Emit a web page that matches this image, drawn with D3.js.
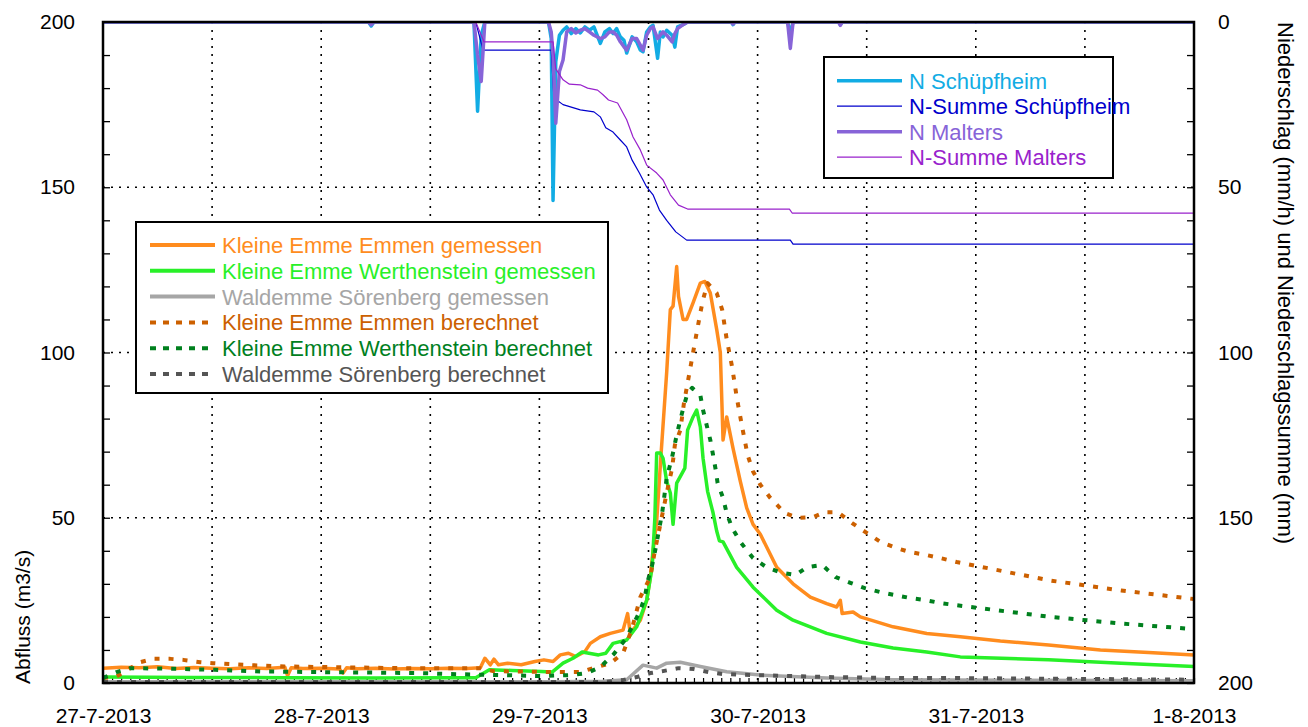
<!DOCTYPE html>
<html><head><meta charset="utf-8">
<script src="https://cdn.jsdelivr.net/npm/d3@7"></script>
<style>
body{margin:0;background:#fff}
svg{display:block}
text{font-family:"Liberation Sans",Arial,Helvetica,sans-serif}
</style>
</head><body>
<svg id="chart" width="1308" height="727"></svg>
<script>
// ---- Data (time in hours since 27-7-2013 00:00) ----
const dateLabels = ["27-7-2013","28-7-2013","29-7-2013","30-7-2013","31-7-2013","1-8-2013"];
const dateHours  = [0,24,48,72,96,120];
const leftTicks  = [0,50,100,150,200];
const rightTicks = [0,50,100,150,200];

const emmenMeas = [[0,4.5],[2,4.8],[4,4.6],[6,4.9],[8,4.4],[10,4.7],[12,4.5],[14,4.3],[16,4.6],[18,4.4],[20,4.8],[20.3,2.2],[20.7,4.6],[22,4.4],[24,4.5],[26,4.2],[26.4,3.0],[26.8,4.6],[28,4.3],[30,4.5],[32,4.2],[34,4.4],[36,4.3],[38,4.5],[40,4.4],[41.5,4.6],[42.0,7.5],[42.6,5.5],[43.0,7.2],[43.5,5.5],[44.5,6],[46,5.5],[47.5,6.5],[48.5,7],[49.5,6.5],[50.3,8.5],[51.2,9],[52,8],[53,9.5],[53.6,12],[54.7,14],[55.8,15],[57.2,16],[57.7,21],[58.0,15],[59.1,19],[59.8,25],[60.2,32],[60.5,40],[60.9,49],[61.4,70],[62.0,94],[62.4,113],[62.7,114],[63.1,126],[63.3,117],[63.8,110],[64.2,110],[64.9,115],[65.7,121],[66.2,121.5],[66.8,118],[67.5,107],[67.9,100],[68.2,73.5],[68.6,80.5],[69.3,71],[70.1,61],[70.8,53],[71.5,48],[72.3,45],[74.1,35],[75.9,30],[77.8,26],[79.6,24],[80.7,23],[81.1,25],[81.3,21],[82.5,21.5],[83.3,20],[86.9,17],[90.6,15],[94.3,14],[98.7,12.7],[104,11.5],[109.7,10],[115,9.2],[120,8.5]];

const werthMeas = [[0,1.8],[10,1.7],[20,1.6],[30,1.5],[38,1.6],[41,1.6],[42.5,4],[45,3.8],[48.2,3.5],[49.4,3.3],[50.6,6],[51.7,7.5],[52.7,9.4],[54.5,8.5],[55.3,9],[56.1,12],[57.6,13],[58.7,17],[59.8,25],[60.4,35],[60.7,50],[60.9,69.6],[61.3,69.6],[61.6,68],[62.0,61],[62.4,57.5],[62.7,48],[63.1,60.5],[63.7,63.5],[64.0,65],[64.3,76.5],[64.9,80.5],[65.3,82.6],[65.7,77.5],[66.0,68],[66.5,58],[67.1,51.5],[67.5,46],[67.8,43],[68.2,42.7],[69.7,35],[71.5,29],[74.1,22],[75.9,19],[79.6,15],[83.3,12.4],[86.9,10.6],[90.6,9.4],[94.3,7.9],[104,7],[112,6],[120,5]];

const soerMeas = [[0,0.4],[40,0.4],[50,0.4],[55,0.5],[57.6,1],[59.4,5.4],[60.9,4.5],[62.0,6],[63.5,6.3],[65.7,5],[68.6,3.4],[72.3,2.4],[79.6,1.5],[86.9,1],[100,0.8],[120,0.7]];

const emmenCalc = [[0,1.5],[1.5,2],[4.1,6.3],[5.5,7.3],[7.4,7.3],[8.8,7],[10.7,6.3],[12.1,6],[15.4,5.5],[20,5],[25,4.8],[32.7,4.5],[41.5,4.5],[42.9,3.6],[49.2,3.3],[52.5,3.3],[55.8,6],[57.2,9],[58.2,16.6],[59.1,26],[60.2,32],[60.7,40],[61.3,48],[62.0,57.5],[62.6,65],[62.9,72],[63.5,76.5],[63.9,84.7],[64.5,93.8],[65.1,103],[65.7,112],[66.0,116],[66.5,121],[67.5,118],[68.1,113],[68.6,104],[69.2,95.6],[69.7,86.5],[70.3,77.5],[70.9,69],[71.5,64],[72.3,60],[73.4,56],[75.0,51.4],[76.4,50],[78.1,50.2],[79.4,51.7],[80.8,51.7],[82.4,48.4],[84.0,45.4],[85.5,42.7],[87.3,40.8],[88.8,39.6],[90.6,38.7],[92.1,37.8],[93.9,36.6],[104.2,31],[112,28],[120,25.4]];

const werthCalc = [[0,1.5],[1.5,3.3],[3,4.5],[7.9,4.3],[12.3,4],[17.3,3.5],[23.9,3.3],[34.9,3],[38.2,2.7],[43.7,2.4],[48.1,2.1],[51.4,2.4],[53.2,3],[54.7,4.8],[56.1,8.5],[57.4,13],[58.3,17.5],[59.1,22],[59.6,26],[59.9,30.6],[60.4,35.7],[60.7,39.6],[61.0,44],[61.5,51.4],[62.0,62],[62.6,68.4],[63.1,75],[63.5,79.6],[63.9,84],[64.3,87.7],[64.8,89.3],[65.7,87.1],[66.0,82.6],[66.4,78],[66.8,73.5],[67.1,69],[67.4,64.4],[67.6,60.5],[68.2,56],[68.6,51.4],[69.2,46.9],[70.1,42.7],[71.5,37.8],[73.0,35],[74.7,33.3],[76.2,32.7],[77.4,35],[79.1,35.7],[80.6,32],[82.2,30.3],[83.8,28.7],[85.5,27.5],[87.1,26.6],[88.8,25.7],[90.4,25.1],[92.1,24.2],[93.7,23.6],[104.2,20],[112,18],[120,16.3]];

const soerCalc = [[0,0.3],[55,0.3],[57,0.8],[58.7,1.8],[60.2,3],[61.6,3.6],[63.3,4.5],[65.0,4.2],[66.6,3.3],[68.2,2.7],[71.5,2.4],[75.9,2.1],[79.6,1.8],[86.9,1.5],[93.5,1.5],[120,1]];

// precipitation (mm/h), right axis (inverted)
const nSchuepf = [[0,0],[29.2,0],[29.5,1.2],[29.8,0],[40.8,0],[41.2,27],[41.6,4],[42.0,0],[49.0,0],[49.3,5],[49.5,54],[49.8,12],[50.2,4],[50.6,2.5],[51.0,1.5],[51.5,3.5],[52.0,2],[52.5,3.3],[53.0,1.5],[53.5,2.5],[54.0,1.5],[54.7,6.5],[55.2,3],[55.7,2],[56.1,3.5],[56.5,2],[56.9,4.5],[57.3,5.5],[57.6,9.4],[58.2,4.5],[58.7,6],[59.1,8.5],[59.4,9],[59.8,3],[60.2,1.5],[60.5,1],[61.0,11],[61.3,3],[61.6,4.5],[62.0,2.5],[62.6,4],[62.9,7.6],[63.2,1.5],[63.8,0.8],[64.3,0],[69.1,0],[69.3,0.8],[69.5,0],[75.3,0],[75.6,3.5],[75.9,0],[80.9,0],[81.1,0.8],[81.3,0],[120,0]];
const nMalters = [[0,0],[29.2,0],[29.5,0.8],[29.8,0],[40.8,0],[41.2,10],[41.6,18],[42.0,0],[49.0,0],[49.3,3],[49.5,10],[49.8,30.6],[50.2,15],[50.6,11.5],[51.0,3],[51.5,2],[52.0,3.3],[52.5,2.5],[53.0,2],[53.5,3],[54.0,4],[54.7,5],[55.2,4.5],[55.7,3],[56.1,3],[56.5,4],[56.9,6],[57.3,7.5],[57.6,8.5],[58.2,5],[58.7,5],[59.1,7],[59.4,8.5],[59.8,4],[60.2,2],[60.5,1.5],[61.0,5],[61.3,4],[61.6,3],[62.0,4],[62.6,6],[62.9,3.5],[63.2,2],[63.8,0.8],[64.3,0],[69.1,0],[69.3,0.6],[69.5,0],[75.3,0],[75.6,8],[75.9,0],[80.9,0],[81.1,1],[81.3,0],[120,0]];
const sumSchuepf = [[0,0],[41.0,0],[41.8,8.5],[49.3,8.5],[49.6,23],[50.6,25],[52.5,26.6],[54.0,27.2],[54.7,28.7],[55.3,32],[56.1,33.3],[56.9,35.7],[57.6,37.8],[58.2,41.8],[59.0,45.7],[59.8,49.9],[60.5,52.3],[61.2,56.9],[62.0,60],[63.0,63.5],[64.2,66],[75.6,66],[75.9,67.2],[120,67.2]];
const sumMalters = [[0,0],[41.0,0],[41.9,6],[49.5,6],[49.8,14.2],[50.6,17.5],[51.3,18.8],[52.5,19],[53.3,20],[54.4,20.6],[55.0,22],[55.6,23.6],[56.6,24.5],[57.6,29.6],[58.3,34.8],[59.1,38.7],[59.8,43.3],[60.9,45.7],[61.6,47.8],[62.4,52.3],[63.3,55.4],[64.3,56.6],[75.5,56.6],[75.8,57.8],[120,57.8]];

const flowSeries = [
  {name:"Kleine Emme Emmen gemessen", data:emmenMeas, color:"#ff8c1e", dash:null},
  {name:"Kleine Emme Werthenstein gemessen", data:werthMeas, color:"#28f028", dash:null},
  {name:"Waldemme Sörenberg gemessen", data:soerMeas, color:"#a6a6a6", dash:null},
  {name:"Kleine Emme Emmen berechnet", data:emmenCalc, color:"#cc6000", dash:"5,9"},
  {name:"Kleine Emme Werthenstein berechnet", data:werthCalc, color:"#00801e", dash:"5,9"},
  {name:"Waldemme Sörenberg berechnet", data:soerCalc, color:"#555555", dash:"5,9"}
];
const rainSeries = [
  {name:"N Schüpfheim", data:nSchuepf, color:"#12ace4", w:3.5},
  {name:"N-Summe Schüpfheim", data:sumSchuepf, color:"#0000cc", w:1.2},
  {name:"N Malters", data:nMalters, color:"#8764d8", w:3.5},
  {name:"N-Summe Malters", data:sumMalters, color:"#9922cc", w:1.2}
];

// ---- Layout ----
const L=103, R=1194, T=22, B=683;
const svg = d3.select("#chart");
const x = d3.scaleLinear().domain([0,120]).range([L,R]);
const y = d3.scaleLinear().domain([0,200]).range([B,T]);
const yR = d3.scaleLinear().domain([0,200]).range([T,B]);

svg.append("defs").append("clipPath").attr("id","clip")
  .append("rect").attr("x",L).attr("y",T).attr("width",R-L).attr("height",B-T);

// grid
const grid = svg.append("g");
d3.range(12,120,12).forEach(h=>{
  grid.append("line").attr("x1",x(h)).attr("x2",x(h)).attr("y1",T).attr("y2",B)
    .attr("stroke","#000").attr("stroke-width",1.6).attr("stroke-dasharray","2,6");
});
[50,100,150].forEach(v=>{
  grid.append("line").attr("x1",L).attr("x2",R).attr("y1",y(v)).attr("y2",y(v))
    .attr("stroke","#000").attr("stroke-width",1.6).attr("stroke-dasharray","2,6");
});

// minor ticks
svg.append("g").attr("transform",`translate(${L},0)`)
  .call(d3.axisLeft(y).tickValues(d3.range(0,201,10)).tickSize(-7).tickFormat(""))
  .call(g=>g.select(".domain").remove()).selectAll("line").attr("stroke","#000").attr("stroke-width",1.3);
svg.append("g").attr("transform",`translate(${R},0)`)
  .call(d3.axisRight(yR).tickValues(d3.range(0,201,10)).tickSize(-7).tickFormat(""))
  .call(g=>g.select(".domain").remove()).selectAll("line").attr("stroke","#000").attr("stroke-width",1.3);
svg.append("g").attr("transform",`translate(0,${B})`)
  .call(d3.axisBottom(x).tickValues(d3.range(0,121,1)).tickSize(-5).tickFormat(""))
  .call(g=>g.select(".domain").remove()).selectAll("line").attr("stroke","#000").attr("stroke-width",1.2);

// tick labels
const lax = svg.append("g").attr("transform",`translate(${L},0)`)
  .call(d3.axisLeft(y).tickValues(leftTicks).tickSize(0).tickPadding(28));
lax.select(".domain").remove();
lax.selectAll("text").attr("font-size",21).attr("fill","#000").style("font-family",'"Liberation Sans",Arial,sans-serif');
const rax = svg.append("g").attr("transform",`translate(${R},0)`)
  .call(d3.axisRight(yR).tickValues(rightTicks).tickSize(0).tickPadding(24));
rax.select(".domain").remove();
rax.selectAll("text").attr("font-size",21).attr("fill","#000").style("font-family",'"Liberation Sans",Arial,sans-serif');
const bax = svg.append("g").attr("transform",`translate(0,${B})`)
  .call(d3.axisBottom(x).tickValues(dateHours).tickSize(0).tickPadding(25).tickFormat((d,i)=>dateLabels[i]));
bax.select(".domain").remove();
bax.selectAll("text").attr("font-size",21).attr("fill","#000").style("font-family",'"Liberation Sans",Arial,sans-serif');

// series
const plot = svg.append("g").attr("clip-path","url(#clip)");
const line = d3.line().x(d=>x(d[0])).y(d=>y(d[1]));
const lineR = d3.line().x(d=>x(d[0])).y(d=>yR(d[1]));
flowSeries.forEach(s=>{
  plot.append("path").attr("d",line(s.data)).attr("fill","none")
    .attr("stroke",s.color).attr("stroke-width",s.dash?4:3.5)
    .attr("stroke-dasharray",s.dash).attr("stroke-linejoin","round")
    .attr("stroke-linecap",s.dash?"butt":"round");
});
rainSeries.forEach(s=>{
  plot.append("path").attr("d",lineR(s.data)).attr("fill","none")
    .attr("stroke",s.color).attr("stroke-width",s.w).attr("stroke-linejoin","round");
});

// frame
svg.append("rect").attr("x",L).attr("y",T).attr("width",R-L).attr("height",B-T)
  .attr("fill","none").attr("stroke","#000").attr("stroke-width",2.5);

// axis titles
svg.append("text").attr("transform",`translate(30,684) rotate(-90)`)
  .attr("text-anchor","start").attr("font-size",21).text("Abfluss (m3/s)");
svg.append("text").attr("transform",`translate(1278,22) rotate(90)`)
  .attr("text-anchor","start").attr("font-size",22).text("Niederschlag (mm/h) und Niederschlagssumme (mm)");

// legend 1 (flows)
const lg1 = svg.append("g");
lg1.append("rect").attr("x",136).attr("y",222).attr("width",472).attr("height",171)
  .attr("fill","#fff").attr("stroke","#000").attr("stroke-width",2);
flowSeries.forEach((s,i)=>{
  const yy = 245 + i*25.8;
  lg1.append("line").attr("x1",150).attr("x2",215).attr("y1",yy).attr("y2",yy)
    .attr("stroke",s.color).attr("stroke-width",4).attr("stroke-dasharray",s.dash?"6,7":null);
  lg1.append("text").attr("x",222).attr("y",yy).attr("dy","0.36em").attr("font-size",22)
    .attr("fill",s.color).text(s.name);
});

// legend 2 (rain)
const lg2 = svg.append("g");
lg2.append("rect").attr("x",824).attr("y",57).attr("width",289).attr("height",121)
  .attr("fill","#fff").attr("stroke","#000").attr("stroke-width",2);
rainSeries.forEach((s,i)=>{
  const yy = 80.7 + i*25.5;
  lg2.append("line").attr("x1",837).attr("x2",902).attr("y1",yy).attr("y2",yy)
    .attr("stroke",s.color).attr("stroke-width",s.w);
  lg2.append("text").attr("x",909).attr("y",yy).attr("dy","0.36em").attr("font-size",22)
    .attr("fill",s.color).text(s.name);
});
</script>
</body></html>
